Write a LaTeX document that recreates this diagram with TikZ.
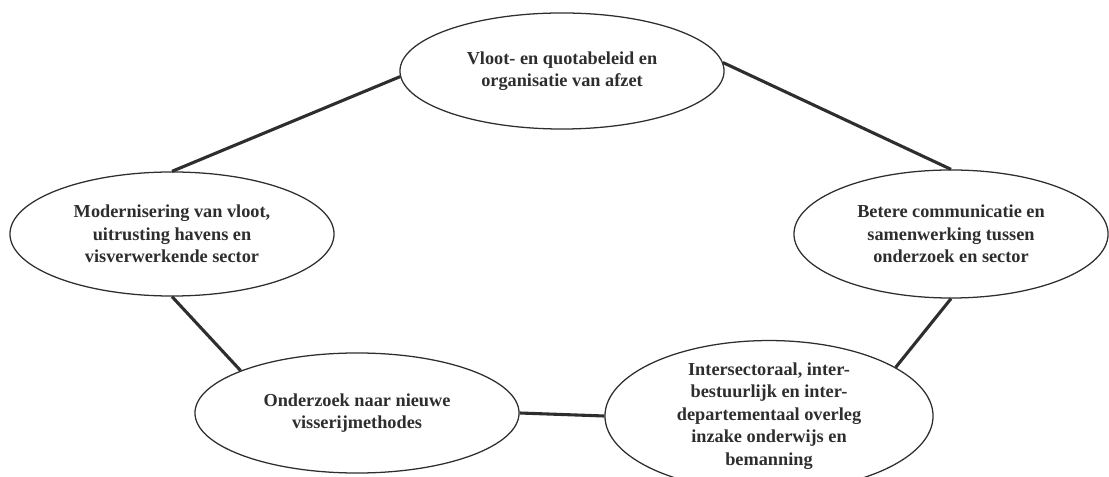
\documentclass[tikz,border=0pt]{standalone}
\usepackage{fontspec}
\setmainfont{Liberation Serif}
\usetikzlibrary{shapes.geometric}
\definecolor{ink}{HTML}{2E2E2E}
\begin{document}
\begin{tikzpicture}[x=0.025cm,y=-0.025cm]
        \tikzstyle{every node}=[draw=ink,shape=ellipse,line width=0.9pt,inner sep=0pt,align=center,text=ink,font=\fontsize{13}{16}\selectfont\bfseries];
        \useasboundingbox (0,0) rectangle (1109,477);
        \clip (0,0) rectangle (1109,477);
        %\node (name) at (x,y) [minimum width=..,minimum height=..] {text};
        \node (t) at (562,71) [minimum width=8.1cm,minimum height=2.9cm] {Vloot- en quotabeleid en\\organisatie van afzet};
        \node (l) at (172,234) [minimum width=8.1cm,minimum height=3.1cm] {Modernisering van vloot,\\uitrusting havens en\\visverwerkende sector};
        \node (r) at (951,234) [minimum width=7.85cm,minimum height=3.2cm] {Betere communicatie en\\samenwerking tussen\\onderzoek en sector};
        \node (bl) at (357,413) [minimum width=8.1cm,minimum height=3.0cm] {Onderzoek naar nieuwe\\visserijmethodes};
        \node (br) at (769,416) [minimum width=8.2cm,minimum height=3.2cm] {Intersectoraal, inter-\\bestuurlijk en inter-\\departementaal overleg\\inzake onderwijs en\\bemanning};
        \draw[ink,line width=2.2pt] (l.north)--(t.182)
        (t.3)--(r.north)
        (r.south)--(br.21)
        (br.west)--(bl.east)
        (bl.160)--(l.south);
    \end{tikzpicture}
\end{document}
